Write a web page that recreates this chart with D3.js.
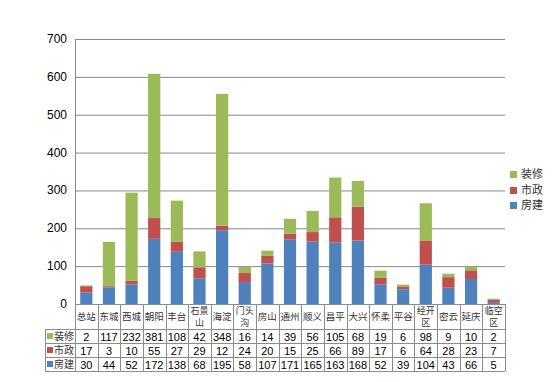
<!DOCTYPE html>
<html><head><meta charset="utf-8">
<script src="https://cdn.jsdelivr.net/npm/d3@7"></script>
<style>body{margin:0;background:#fff}</style>
</head><body>
<svg id="c" width="554" height="382"></svg>
<script>
const categories = ["总站","东城","西城","朝阳","丰台","石景山","海淀","门头沟","房山","通州","顺义","昌平","大兴","怀柔","平谷","经开区","密云","延庆","临空区"];
const catLines = [["总站"],["东城"],["西城"],["朝阳"],["丰台"],["石景","山"],["海淀"],["门头","沟"],["房山"],["通州"],["顺义"],["昌平"],["大兴"],["怀柔"],["平谷"],["经开","区"],["密云"],["延庆"],["临空","区"]];
const seriesNames = ["房建","市政","装修"];
const fangjian = [30,44,52,172,138,68,195,58,107,171,165,163,168,52,39,104,43,66,5];
const shizheng = [17,3,10,55,27,29,12,24,20,15,25,66,89,17,6,64,28,23,7];
const zhuangxiu = [2,117,232,381,108,42,348,16,14,39,56,105,68,19,6,98,9,10,2];
const yTicks = [0,100,200,300,400,500,600,700];
const colors = {"房建":"#4F81BD","市政":"#C0504D","装修":"#9BBB59"};

const svg = d3.select("#c");
const L = 75, R = 505, T = 39, B = 304;
const x = d3.scaleBand().domain(categories).range([L, R]).paddingInner(0.46).paddingOuter(0.23);
const xc = d3.scaleBand().domain(categories).range([L, R]);
const y = d3.scaleLinear().domain([0, 700]).range([B, T]);

svg.append("g").selectAll("line").data(yTicks.filter(d=>d>0)).join("line")
  .attr("x1", L).attr("x2", R).attr("y1", d=>y(d)+0.5).attr("y2", d=>y(d)+0.5)
  .attr("stroke", "#878787").attr("stroke-width", 1);
svg.append("line").attr("x1", L+0.5).attr("x2", L+0.5).attr("y1", T).attr("y2", B).attr("stroke","#878787");
svg.append("g").selectAll("text").data(yTicks).join("text")
  .attr("x", 67).attr("y", d=>y(d)+4).attr("text-anchor","end")
  .attr("font-family","Liberation Sans, Arial, sans-serif").attr("font-size",12).attr("fill","#000")
  .text(d=>d);

const rows = categories.map((c,i)=>({cat:c,"房建":fangjian[i],"市政":shizheng[i],"装修":zhuangxiu[i]}));
const stacked = d3.stack().keys(seriesNames)(rows);
svg.append("g").selectAll("g").data(stacked).join("g").attr("fill", d=>colors[d.key])
  .selectAll("rect").data(d=>d).join("rect")
  .attr("x", d=>x(d.data.cat)).attr("width", x.bandwidth())
  .attr("y", d=>y(d[1])).attr("height", d=>y(d[0])-y(d[1]));

const tbl = svg.append("g");
const tl = 45;
const gc = "#8c8c8c";
tbl.append("line").attr("x1", L).attr("x2", R).attr("y1", B+0.5).attr("y2", B+0.5).attr("stroke", gc);
[329,343,357,371].forEach(yy=>{
  tbl.append("line").attr("x1", tl).attr("x2", R).attr("y1", yy+0.5).attr("y2", yy+0.5).attr("stroke", gc);
});
tbl.append("line").attr("x1", tl+0.5).attr("x2", tl+0.5).attr("y1", 329).attr("y2", 371).attr("stroke", gc);
categories.forEach(c=>{
  const xx = Math.round(xc(c))+0.5;
  tbl.append("line").attr("x1", xx).attr("x2", xx).attr("y1", B).attr("y2", 371).attr("stroke", gc);
});
tbl.append("line").attr("x1", R+0.5).attr("x2", R+0.5).attr("y1", B).attr("y2", 371).attr("stroke", gc);

const cjk = "Noto Sans CJK SC, sans-serif";
categories.forEach((c,i)=>{
  const lines = catLines[i];
  const cx = xc(c) + xc.bandwidth()/2;
  if (lines.length === 1) {
    tbl.append("text").attr("x", cx).attr("y", 320).attr("text-anchor","middle")
      .attr("font-family", cjk).attr("font-size", 9.5).attr("fill","#333").text(lines[0]);
  } else {
    const t = tbl.append("text").attr("x", cx).attr("y", 314).attr("text-anchor","middle")
      .attr("font-family", cjk).attr("font-size", 9).attr("fill","#333");
    lines.forEach((s,j)=>{
      t.append("tspan").attr("x", cx).attr("dy", j===0 ? 0 : 11.5).text(s);
    });
  }
});
const tableSeries = [["装修", zhuangxiu],["市政", shizheng],["房建", fangjian]];
tableSeries.forEach(([name, vals], r)=>{
  const top = 329 + r*14;
  tbl.append("rect").attr("x", 47).attr("y", top+4).attr("width",6).attr("height",6).attr("fill", colors[name]);
  tbl.append("text").attr("x", 54).attr("y", top+11).attr("font-family", cjk).attr("font-size",10).attr("fill","#333").text(name);
  vals.forEach((v,i)=>{
    tbl.append("text").attr("x", xc(categories[i]) + xc.bandwidth()/2).attr("y", top+11.5)
      .attr("text-anchor","middle").attr("font-family","Liberation Sans, Arial, sans-serif").attr("font-size",11).attr("fill","#000").text(v);
  });
});

const leg = svg.append("g");
[["装修",174],["市政",190],["房建",205]].forEach(([n,yy])=>{
  leg.append("rect").attr("x", 510).attr("y", yy-3).attr("width",7).attr("height",7).attr("fill", colors[n]);
  leg.append("text").attr("x", 521).attr("y", yy+4).attr("font-family", cjk).attr("font-size",11).attr("fill","#333").text(n);
});
</script>
</body></html>
